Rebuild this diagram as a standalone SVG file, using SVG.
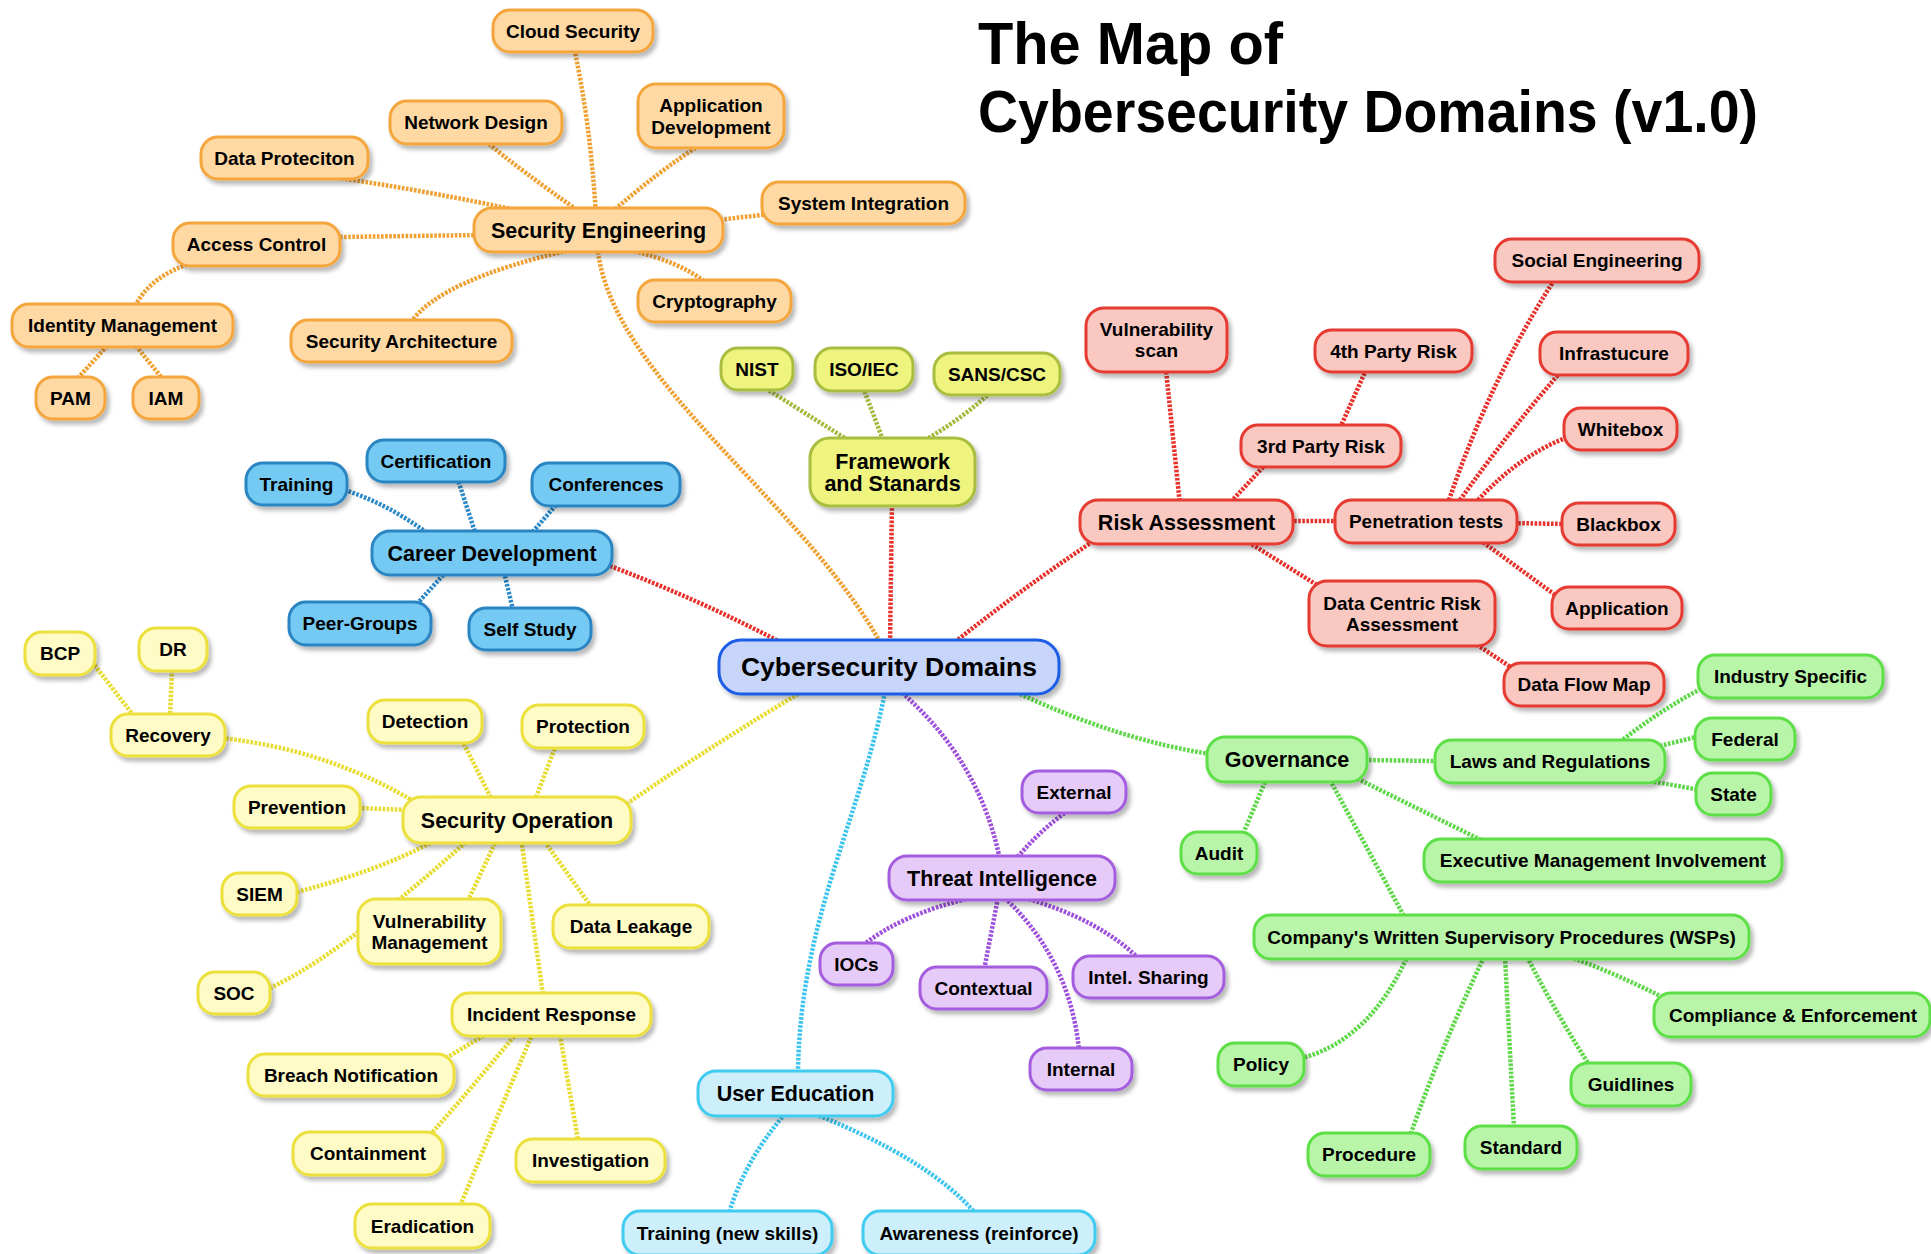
<svg xmlns="http://www.w3.org/2000/svg" width="1931" height="1254" viewBox="0 0 1931 1254">
<defs>
<filter id="sh" x="-20%" y="-30%" width="140%" height="170%">
<feDropShadow dx="3" dy="4" stdDeviation="2.2" flood-color="#000" flood-opacity="0.28"/>
</filter>
<style>
text{font-family:"Liberation Sans",Arial,Helvetica,sans-serif;font-weight:bold;fill:#000;text-anchor:middle}
.t{font-size:19px}
.m{font-size:21.5px}
.c{font-size:26.5px}
.title{font-size:60px;text-anchor:start}
.node rect{stroke-width:3;filter:url(#sh)}
.or rect{fill:#FED9A4;stroke:#F4A63E}
.ol rect{fill:#EFF47E;stroke:#A9BD40}
.sk rect{fill:#74CAF3;stroke:#2B86C3}
.co rect{fill:#C8D5FA;stroke:#1D5DE6}
.rd rect{fill:#F9C8C0;stroke:#E63A30}
.gr rect{fill:#B9F5A9;stroke:#5EDF47}
.pu rect{fill:#E6CAF7;stroke:#A55DDF}
.cy rect{fill:#CDEFFB;stroke:#3FCBF0}
.ye rect{fill:#FEFBC6;stroke:#ECE03C}
#connectors path{fill:none;stroke-width:4.5;stroke-dasharray:2.6 1.5}
.lor{stroke:#F0A030}
.lol{stroke:#A2B93A}
.lrd{stroke:#E8302A}
.lsk{stroke:#2A88C8}
.lye{stroke:#E8DC30}
.lgr{stroke:#5ED848}
.lpu{stroke:#9E50DC}
.lcy{stroke:#3CC4EE}
</style>
</defs>
<rect x="0" y="0" width="1931" height="1254" fill="#ffffff"/>

<g id="title">
<text class="title" x="978" y="64" textLength="305" lengthAdjust="spacingAndGlyphs">The Map of</text>
<text class="title" x="978" y="132" textLength="780" lengthAdjust="spacingAndGlyphs">Cybersecurity Domains (v1.0)</text>
</g>

<g id="connectors">
<!-- Security Engineering -->
<path class="lor" d="M596,215 Q590,120 574,48"/>
<path class="lor" d="M580,212 Q520,170 484,140"/>
<path class="lor" d="M612,212 Q660,170 700,145"/>
<path class="lor" d="M325,176 Q440,192 560,220"/>
<path class="lor" d="M700,222 L770,214"/>
<path class="lor" d="M340,237 L480,235"/>
<path class="lor" d="M630,250 Q680,262 705,282"/>
<path class="lor" d="M411,322 Q440,280 570,250"/>
<path class="lor" d="M195,262 Q150,275 134,308"/>
<path class="lor" d="M107,346 L78,378"/>
<path class="lor" d="M136,346 L162,378"/>
<path class="lor" d="M598,252 C615,380 800,500 880,642"/>
<!-- Framework -->
<path class="lol" d="M848,440 Q800,410 765,388"/>
<path class="lol" d="M883,440 L864,390"/>
<path class="lol" d="M925,440 Q960,420 990,393"/>
<path class="lrd" d="M892,500 L890,645"/>
<!-- Risk Assessment -->
<path class="lrd" d="M955,642 Q1020,590 1095,540"/>
<path class="lrd" d="M1180,505 L1166,370"/>
<path class="lrd" d="M1228,505 L1265,465"/>
<path class="lrd" d="M1340,428 L1366,370"/>
<path class="lrd" d="M1290,521 L1340,521"/>
<path class="lrd" d="M1245,540 L1325,590"/>
<path class="lrd" d="M1470,640 L1515,670"/>
<path class="lrd" d="M1449,500 Q1490,380 1553,282"/>
<path class="lrd" d="M1460,500 Q1510,430 1558,375"/>
<path class="lrd" d="M1478,500 Q1520,455 1568,437"/>
<path class="lrd" d="M1510,523 L1566,524"/>
<path class="lrd" d="M1480,540 L1558,597"/>
<!-- Career Development -->
<path class="lsk" d="M430,535 Q390,505 345,490"/>
<path class="lsk" d="M476,535 L458,480"/>
<path class="lsk" d="M530,535 L556,505"/>
<path class="lsk" d="M446,572 L415,606"/>
<path class="lsk" d="M504,572 L513,610"/>
<path class="lrd" d="M610,566 Q700,600 780,642"/>
<!-- Security Operation -->
<path class="lye" d="M805,690 Q720,740 625,805"/>
<path class="lye" d="M222,738 Q330,750 420,805"/>
<path class="lye" d="M92,662 L134,716"/>
<path class="lye" d="M172,670 L170,716"/>
<path class="lye" d="M462,740 L492,800"/>
<path class="lye" d="M556,745 L535,800"/>
<path class="lye" d="M358,808 L408,810"/>
<path class="lye" d="M297,892 Q380,870 430,843"/>
<path class="lye" d="M270,988 C330,960 400,900 465,843"/>
<path class="lye" d="M466,905 L495,843"/>
<path class="lye" d="M522,845 L543,995"/>
<path class="lye" d="M547,845 L590,905"/>
<path class="lye" d="M446,1058 L485,1035"/>
<path class="lye" d="M430,1135 Q470,1090 515,1035"/>
<path class="lye" d="M460,1206 Q500,1110 532,1035"/>
<path class="lye" d="M560,1035 L578,1140"/>
<!-- Threat Intelligence -->
<path class="lpu" d="M899,690 Q980,760 1000,860"/>
<path class="lpu" d="M1015,860 Q1040,830 1069,810"/>
<path class="lpu" d="M970,898 Q900,915 862,946"/>
<path class="lpu" d="M998,898 L984,970"/>
<path class="lpu" d="M1025,898 Q1100,920 1138,958"/>
<path class="lpu" d="M1005,898 Q1070,960 1079,1050"/>
<!-- User Education -->
<path class="lcy" d="M885,692 C860,820 800,920 798,1072"/>
<path class="lcy" d="M785,1114 Q745,1160 729,1213"/>
<path class="lcy" d="M815,1114 Q930,1160 975,1213"/>
<!-- Governance -->
<path class="lgr" d="M1020,694 Q1120,740 1210,754"/>
<path class="lgr" d="M1365,760 L1437,761"/>
<path class="lgr" d="M1265,782 L1243,834"/>
<path class="lgr" d="M1350,775 L1485,842"/>
<path class="lgr" d="M1330,780 L1405,918"/>
<path class="lgr" d="M1620,742 Q1660,710 1706,686"/>
<path class="lgr" d="M1660,746 L1700,736"/>
<path class="lgr" d="M1650,781 L1700,790"/>
<path class="lgr" d="M1408,955 Q1370,1040 1302,1058"/>
<path class="lgr" d="M1484,957 Q1440,1050 1410,1136"/>
<path class="lgr" d="M1505,957 L1514,1128"/>
<path class="lgr" d="M1527,957 Q1560,1020 1590,1066"/>
<path class="lgr" d="M1570,957 Q1620,975 1672,1002"/>
</g>

<!-- Orange: Security Engineering -->
<g id="cloud-security" class="node or"><rect x="493" y="10" width="160" height="42" rx="17"/><text class="t" x="573" y="38">Cloud Security</text></g>
<g id="network-design" class="node or"><rect x="390" y="101" width="172" height="43" rx="17"/><text class="t" x="476" y="129">Network Design</text></g>
<g id="application-development" class="node or"><rect x="638" y="84" width="146" height="64" rx="18"/><text class="t" x="711" y="112">Application</text><text class="t" x="711" y="134">Development</text></g>
<g id="data-protection" class="node or"><rect x="201" y="137" width="167" height="42" rx="17"/><text class="t" x="284.5" y="165">Data Proteciton</text></g>
<g id="system-integration" class="node or"><rect x="762" y="182" width="203" height="42" rx="17"/><text class="t" x="863.5" y="210">System Integration</text></g>
<g id="security-engineering" class="node or"><rect x="474" y="208" width="249" height="44" rx="18"/><text class="m" x="598.5" y="237.5">Security Engineering</text></g>
<g id="access-control" class="node or"><rect x="173" y="223" width="167" height="43" rx="17"/><text class="t" x="256.5" y="251">Access Control</text></g>
<g id="cryptography" class="node or"><rect x="638" y="280" width="153" height="42" rx="17"/><text class="t" x="714.5" y="308">Cryptography</text></g>
<g id="identity-management" class="node or"><rect x="12" y="304" width="221" height="43" rx="17"/><text class="t" x="122.5" y="332">Identity Management</text></g>
<g id="security-architecture" class="node or"><rect x="291" y="320" width="221" height="42" rx="17"/><text class="t" x="401.5" y="348">Security Architecture</text></g>
<g id="pam" class="node or"><rect x="36" y="377" width="69" height="42" rx="17"/><text class="t" x="70.5" y="405">PAM</text></g>
<g id="iam" class="node or"><rect x="133" y="377" width="66" height="42" rx="17"/><text class="t" x="166" y="405">IAM</text></g>

<!-- Olive: Framework -->
<g id="nist" class="node ol"><rect x="721" y="348" width="72" height="42" rx="17"/><text class="t" x="757" y="376">NIST</text></g>
<g id="iso-iec" class="node ol"><rect x="815" y="348" width="98" height="43" rx="17"/><text class="t" x="864" y="376">ISO/IEC</text></g>
<g id="sans-csc" class="node ol"><rect x="934" y="353" width="126" height="42" rx="17"/><text class="t" x="997" y="381">SANS/CSC</text></g>
<g id="framework-standards" class="node ol"><rect x="810" y="438" width="165" height="68" rx="20"/><text class="m" x="892.5" y="469">Framework</text><text class="m" x="892.5" y="491">and Stanards</text></g>

<!-- Center -->
<g id="cybersecurity-domains" class="node co"><rect x="719" y="640" width="340" height="54" rx="22"/><text class="c" x="889" y="676">Cybersecurity Domains</text></g>

<!-- Red: Risk Assessment -->
<g id="vulnerability-scan" class="node rd"><rect x="1086" y="308" width="141" height="64" rx="18"/><text class="t" x="1156.5" y="336">Vulnerability</text><text class="t" x="1156.5" y="357">scan</text></g>
<g id="risk-assessment" class="node rd"><rect x="1080" y="500" width="213" height="44" rx="18"/><text class="m" x="1186.5" y="529.5">Risk Assessment</text></g>
<g id="third-party-risk" class="node rd"><rect x="1241" y="425" width="160" height="42" rx="17"/><text class="t" x="1321" y="453">3rd Party Risk</text></g>
<g id="fourth-party-risk" class="node rd"><rect x="1315" y="330" width="157" height="42" rx="17"/><text class="t" x="1393.5" y="358">4th Party Risk</text></g>
<g id="social-engineering" class="node rd"><rect x="1495" y="239" width="204" height="43" rx="17"/><text class="t" x="1597" y="267">Social Engineering</text></g>
<g id="infrastructure" class="node rd"><rect x="1540" y="332" width="148" height="43" rx="17"/><text class="t" x="1614" y="360">Infrastucure</text></g>
<g id="whitebox" class="node rd"><rect x="1564" y="408" width="113" height="42" rx="17"/><text class="t" x="1620.5" y="436">Whitebox</text></g>
<g id="penetration-tests" class="node rd"><rect x="1335" y="500" width="182" height="43" rx="17"/><text class="t" x="1426" y="528">Penetration tests</text></g>
<g id="blackbox" class="node rd"><rect x="1562" y="503" width="113" height="42" rx="17"/><text class="t" x="1618.5" y="531">Blackbox</text></g>
<g id="data-centric-risk" class="node rd"><rect x="1309" y="581" width="186" height="65" rx="18"/><text class="t" x="1402" y="609.5">Data Centric Risk</text><text class="t" x="1402" y="631">Assessment</text></g>
<g id="application" class="node rd"><rect x="1552" y="587" width="130" height="42" rx="17"/><text class="t" x="1617" y="615">Application</text></g>
<g id="data-flow-map" class="node rd"><rect x="1504" y="663" width="160" height="43" rx="17"/><text class="t" x="1584" y="691">Data Flow Map</text></g>

<!-- Green: Governance -->
<g id="industry-specific" class="node gr"><rect x="1698" y="655" width="185" height="43" rx="17"/><text class="t" x="1790.5" y="683">Industry Specific</text></g>
<g id="federal" class="node gr"><rect x="1695" y="718" width="100" height="42" rx="17"/><text class="t" x="1745" y="746">Federal</text></g>
<g id="governance" class="node gr"><rect x="1207" y="737" width="160" height="45" rx="18"/><text class="m" x="1287" y="767">Governance</text></g>
<g id="laws-regulations" class="node gr"><rect x="1435" y="740" width="230" height="43" rx="17"/><text class="t" x="1550" y="768">Laws and Regulations</text></g>
<g id="state" class="node gr"><rect x="1696" y="773" width="75" height="42" rx="17"/><text class="t" x="1733.5" y="801">State</text></g>
<g id="audit" class="node gr"><rect x="1181" y="832" width="76" height="42" rx="17"/><text class="t" x="1219" y="860">Audit</text></g>
<g id="executive-management" class="node gr"><rect x="1424" y="839" width="358" height="43" rx="17"/><text class="t" x="1603" y="867">Executive Management Involvement</text></g>
<g id="wsps" class="node gr"><rect x="1254" y="915" width="495" height="44" rx="17"/><text class="t" x="1501.5" y="944">Company's Written Supervisory Procedures (WSPs)</text></g>
<g id="compliance-enforcement" class="node gr"><rect x="1654" y="993" width="276" height="44" rx="17"/><text class="t" x="1793" y="1022">Compliance &amp; Enforcement</text></g>
<g id="policy" class="node gr"><rect x="1218" y="1043" width="86" height="43" rx="17"/><text class="t" x="1261" y="1071">Policy</text></g>
<g id="guidlines" class="node gr"><rect x="1571" y="1063" width="120" height="43" rx="17"/><text class="t" x="1631" y="1091">Guidlines</text></g>
<g id="procedure" class="node gr"><rect x="1308" y="1133" width="122" height="43" rx="17"/><text class="t" x="1369" y="1161">Procedure</text></g>
<g id="standard" class="node gr"><rect x="1465" y="1126" width="112" height="43" rx="17"/><text class="t" x="1521" y="1154">Standard</text></g>

<!-- Purple: Threat Intelligence -->
<g id="external" class="node pu"><rect x="1022" y="771" width="104" height="42" rx="17"/><text class="t" x="1074" y="799">External</text></g>
<g id="threat-intelligence" class="node pu"><rect x="889" y="856" width="226" height="44" rx="18"/><text class="m" x="1002" y="885.5">Threat Intelligence</text></g>
<g id="iocs" class="node pu"><rect x="820" y="943" width="73" height="42" rx="17"/><text class="t" x="856.5" y="971">IOCs</text></g>
<g id="contextual" class="node pu"><rect x="920" y="967" width="127" height="42" rx="17"/><text class="t" x="983.5" y="995">Contextual</text></g>
<g id="intel-sharing" class="node pu"><rect x="1073" y="956" width="151" height="42" rx="17"/><text class="t" x="1148.5" y="984">Intel. Sharing</text></g>
<g id="internal" class="node pu"><rect x="1030" y="1048" width="102" height="42" rx="17"/><text class="t" x="1081" y="1076">Internal</text></g>

<!-- Cyan: User Education -->
<g id="user-education" class="node cy"><rect x="698" y="1071" width="195" height="45" rx="18"/><text class="m" x="795.5" y="1101">User Education</text></g>
<g id="training-new-skills" class="node cy"><rect x="623" y="1211" width="209" height="44" rx="17"/><text class="t" x="727.5" y="1240">Training (new skills)</text></g>
<g id="awareness" class="node cy"><rect x="863" y="1211" width="232" height="44" rx="17"/><text class="t" x="979" y="1240">Awareness (reinforce)</text></g>

<!-- Sky blue: Career Development -->
<g id="certification" class="node sk"><rect x="367" y="440" width="138" height="42" rx="17"/><text class="t" x="436" y="468">Certification</text></g>
<g id="training" class="node sk"><rect x="246" y="463" width="101" height="42" rx="17"/><text class="t" x="296.5" y="491">Training</text></g>
<g id="conferences" class="node sk"><rect x="532" y="463" width="148" height="43" rx="17"/><text class="t" x="606" y="491">Conferences</text></g>
<g id="career-development" class="node sk"><rect x="372" y="531" width="240" height="44" rx="18"/><text class="m" x="492" y="560.5">Career Development</text></g>
<g id="peer-groups" class="node sk"><rect x="289" y="602" width="142" height="43" rx="17"/><text class="t" x="360" y="630">Peer-Groups</text></g>
<g id="self-study" class="node sk"><rect x="469" y="608" width="122" height="42" rx="17"/><text class="t" x="530" y="636">Self Study</text></g>

<!-- Yellow: Security Operation -->
<g id="bcp" class="node ye"><rect x="25" y="632" width="70" height="43" rx="17"/><text class="t" x="60" y="660">BCP</text></g>
<g id="dr" class="node ye"><rect x="139" y="628" width="68" height="43" rx="17"/><text class="t" x="173" y="656">DR</text></g>
<g id="recovery" class="node ye"><rect x="111" y="714" width="114" height="42" rx="17"/><text class="t" x="168" y="742">Recovery</text></g>
<g id="detection" class="node ye"><rect x="368" y="700" width="114" height="43" rx="17"/><text class="t" x="425" y="728">Detection</text></g>
<g id="protection" class="node ye"><rect x="522" y="705" width="122" height="43" rx="17"/><text class="t" x="583" y="733">Protection</text></g>
<g id="prevention" class="node ye"><rect x="234" y="786" width="126" height="42" rx="17"/><text class="t" x="297" y="814">Prevention</text></g>
<g id="security-operation" class="node ye"><rect x="403" y="797" width="228" height="46" rx="18"/><text class="m" x="517" y="827.5">Security Operation</text></g>
<g id="siem" class="node ye"><rect x="222" y="873" width="75" height="42" rx="17"/><text class="t" x="259.5" y="901">SIEM</text></g>
<g id="vulnerability-management" class="node ye"><rect x="358" y="899" width="143" height="65" rx="18"/><text class="t" x="429.5" y="927.5">Vulnerability</text><text class="t" x="429.5" y="949">Management</text></g>
<g id="data-leakage" class="node ye"><rect x="553" y="905" width="156" height="43" rx="17"/><text class="t" x="631" y="933">Data Leakage</text></g>
<g id="soc" class="node ye"><rect x="198" y="972" width="72" height="42" rx="17"/><text class="t" x="234" y="1000">SOC</text></g>
<g id="incident-response" class="node ye"><rect x="452" y="993" width="199" height="43" rx="17"/><text class="t" x="551.5" y="1021">Incident Response</text></g>
<g id="breach-notification" class="node ye"><rect x="248" y="1054" width="206" height="42" rx="17"/><text class="t" x="351" y="1082">Breach Notification</text></g>
<g id="containment" class="node ye"><rect x="293" y="1132" width="150" height="43" rx="17"/><text class="t" x="368" y="1160">Containment</text></g>
<g id="investigation" class="node ye"><rect x="516" y="1139" width="149" height="43" rx="17"/><text class="t" x="590.5" y="1167">Investigation</text></g>
<g id="eradication" class="node ye"><rect x="355" y="1204" width="135" height="44" rx="17"/><text class="t" x="422.5" y="1233">Eradication</text></g>
</svg>
